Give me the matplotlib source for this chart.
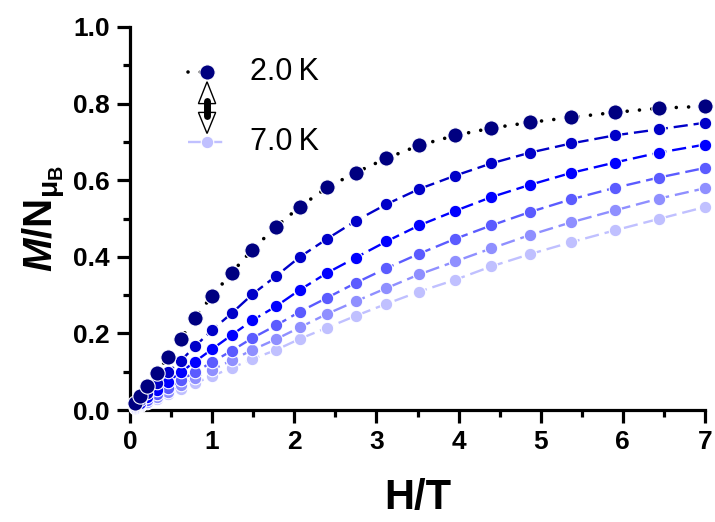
import matplotlib
matplotlib.use("Agg")
import matplotlib.pyplot as plt
from matplotlib.patches import Polygon

plt.rcParams['font.family'] = ['Liberation Sans', 'DejaVu Sans']
plt.rcParams['mathtext.fontset'] = 'custom'
plt.rcParams['mathtext.rm'] = 'Liberation Sans:bold'
plt.rcParams['mathtext.bf'] = 'Liberation Sans:bold'
plt.rcParams['mathtext.it'] = 'Liberation Sans:italic:bold'
plt.rcParams['mathtext.bfit'] = 'Liberation Sans:italic:bold'
plt.rcParams['mathtext.default'] = 'bf'

# ---- data ----
field = [0.06, 0.12, 0.21, 0.33, 0.46, 0.62, 0.79, 1.0, 1.24, 1.49, 1.78, 2.07,
         2.40, 2.75, 3.12, 3.52, 3.96, 4.40, 4.87, 5.37, 5.90, 6.44, 7.0]

m_2K = [0.018, 0.036, 0.063, 0.097, 0.139, 0.186, 0.241, 0.298, 0.359, 0.419, 0.479, 0.531,
        0.581, 0.620, 0.657, 0.691, 0.717, 0.736, 0.751, 0.764, 0.777, 0.788, 0.793]
m_3K = [0.013, 0.026, 0.045, 0.070, 0.098, 0.129, 0.166, 0.209, 0.253, 0.302, 0.350, 0.400,
        0.447, 0.494, 0.537, 0.577, 0.612, 0.644, 0.672, 0.696, 0.717, 0.733, 0.750]
m_4K = [0.010, 0.019, 0.034, 0.053, 0.074, 0.099, 0.126, 0.159, 0.196, 0.234, 0.271, 0.314,
        0.358, 0.398, 0.440, 0.482, 0.520, 0.556, 0.588, 0.619, 0.646, 0.672, 0.693]
m_5K = [0.008, 0.015, 0.026, 0.041, 0.058, 0.078, 0.099, 0.125, 0.155, 0.188, 0.221, 0.257,
        0.293, 0.332, 0.370, 0.408, 0.447, 0.482, 0.517, 0.550, 0.580, 0.607, 0.632]
m_6K = [0.006, 0.013, 0.022, 0.035, 0.048, 0.065, 0.083, 0.105, 0.130, 0.157, 0.185, 0.216,
        0.251, 0.284, 0.318, 0.354, 0.388, 0.422, 0.457, 0.490, 0.521, 0.552, 0.579]
m_7K = [0.005, 0.011, 0.019, 0.029, 0.041, 0.055, 0.070, 0.089, 0.110, 0.133, 0.157, 0.186,
        0.215, 0.246, 0.277, 0.309, 0.340, 0.375, 0.407, 0.438, 0.469, 0.499, 0.530]

series = [m_2K, m_3K, m_4K, m_5K, m_6K, m_7K]
colors = ['#000080', '#0000C8', '#0000FF', '#5B5BFF', '#8F8FFF', '#C0C0FF']
legend_labels = ['2.0\u2009K', '7.0\u2009K']

x_ticks = [0, 1, 2, 3, 4, 5, 6, 7]
y_ticks = [0.0, 0.2, 0.4, 0.6, 0.8, 1.0]

fig = plt.figure(figsize=(7.15, 5.22), dpi=100)
ax = fig.add_axes([130/715, 112/522, 575/715, 383/522])

MS_BIG, MS_SMALL = 11.0, 9.0

# draw lighter series first so the darker ones sit on top
for i in range(len(series) - 1, 0, -1):
    ax.plot(field, series[i], color=colors[i], lw=1.7, linestyle=(0, (6, 2.5)),
            marker='o', ms=MS_SMALL, mfc=colors[i], mec='white', mew=0.8,
            clip_on=False, zorder=3 + (6 - i))
ax.plot(field, series[0], color='black', lw=2.6, linestyle=(0, (0.01, 3.4)),
        dash_capstyle='round', marker='o', ms=MS_BIG, mfc=colors[0], mec='white', mew=0.8,
        clip_on=False, zorder=10)

ax.set_xlim(0, 7)
ax.set_ylim(0, 1.0)
ax.set_xticks(x_ticks)
ax.set_xticklabels([str(t) for t in x_ticks])
ax.set_yticks(y_ticks)
ax.set_yticklabels([f'{t:.1f}' for t in y_ticks])
ax.set_xticks([0.5 + k for k in range(7)], minor=True)
ax.set_yticks([0.1, 0.3, 0.5, 0.7, 0.9], minor=True)

for s in ['top', 'right']:
    ax.spines[s].set_visible(False)
for s in ['left', 'bottom']:
    ax.spines[s].set_linewidth(2.3)
ax.tick_params(which='major', direction='out', length=9.5, width=2.3, pad=5,
               labelsize=19)
ax.tick_params(which='minor', direction='out', length=5, width=2.3)
for lab in ax.get_xticklabels() + ax.get_yticklabels():
    lab.set_fontweight('bold')

ax.set_xlabel('H/T', fontsize=30, fontweight='bold', labelpad=17)
ax.set_ylabel(r'$\mathbfit{M}\mathbf{/N}_{\mathbf{\mu_B}}$', fontsize=29, labelpad=4)

# ---- legend (manual) ----
tr = ax.transAxes
lx0, lx1, lxm = 0.10, 0.163, 0.134
y_top, y_bot = 0.883, 0.70
ax.plot([lx0, lx1], [y_top, y_top], transform=tr, color='black', lw=2.6,
        linestyle=(0, (0.01, 3.4)), dash_capstyle='round', clip_on=False, zorder=11)
ax.plot([lxm], [y_top], transform=tr, marker='o', ms=MS_BIG, color=colors[0],
        mec='white', mew=0.8, clip_on=False, zorder=12)
ax.plot([lx0, lx1], [y_bot, y_bot], transform=tr, color=colors[5], lw=1.7,
        linestyle=(0, (6, 2.5)), clip_on=False, zorder=11)
ax.plot([lxm], [y_bot], transform=tr, marker='o', ms=MS_SMALL, color=colors[5],
        mec='white', mew=0.8, clip_on=False, zorder=12)
ax.text(0.209, y_top, legend_labels[0], transform=tr, fontsize=22, va='center', ha='left')
ax.text(0.209, y_bot, legend_labels[1], transform=tr, fontsize=22, va='center', ha='left')

# double arrow between legend entries
hw = 0.015
up = Polygon([[lxm, 0.857], [lxm - hw, 0.800], [lxm + hw, 0.800]], closed=True,
             transform=tr, facecolor='white', edgecolor='black', lw=1.0, zorder=12)
dn = Polygon([[lxm, 0.722], [lxm - hw, 0.777], [lxm + hw, 0.777]], closed=True,
             transform=tr, facecolor='white', edgecolor='black', lw=1.0, zorder=12)
ax.add_patch(up)
ax.add_patch(dn)
ax.plot([lxm, lxm], [0.808, 0.768], transform=tr, color='black', lw=5,
        solid_capstyle='round', zorder=13, clip_on=False)

fig.savefig('out.png', dpi=100)
